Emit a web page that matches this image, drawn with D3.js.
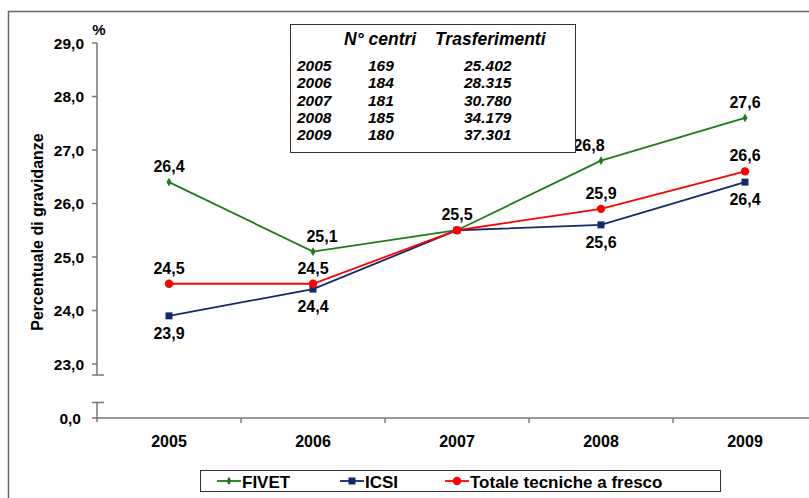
<!DOCTYPE html>
<html>
<head>
<meta charset="utf-8">
<script src="https://d3js.org/d3.v7.min.js"></script>
<style>
  html, body { margin: 0; background: #fff; overflow: hidden; width: 809px; height: 498px; }
  svg { display: block; font-family: "Liberation Sans", Arial, sans-serif; }
</style>
</head>
<body>
<svg id="chart" width="809" height="498"></svg>
<script>
// data
const years = ["2005", "2006", "2007", "2008", "2009"];
const fivet = [26.4, 25.1, 25.5, 26.8, 27.6];
const icsi = [23.9, 24.4, 25.5, 25.6, 26.4];
const totale = [24.5, 24.5, 25.5, 25.9, 26.6];
const yTicks = [23, 24, 25, 26, 27, 28, 29];
const tableYears = ["2005", "2006", "2007", "2008", "2009"];
const centri = ["169", "184", "181", "185", "180"];
const trasferimenti = ["25.402", "28.315", "30.780", "34.179", "37.301"];

const svg = d3.select("#chart");
const fmt = v => d3.format(".1f")(v).replace(".", ",");

const axisX = 97, axisBottom = 418;
const x = d3.scalePoint().domain(years).range([axisX, 817]).padding(0.5);
const y = d3.scaleLinear().domain([23, 29]).range([364, 43]);

const axisColor = "#777";
const g = svg.append("g");

// y axis (broken)
g.append("line").attr("x1", axisX).attr("x2", axisX).attr("y1", y(29)).attr("y2", 375)
  .attr("stroke", axisColor).attr("stroke-width", 1.5);
g.append("line").attr("x1", 92).attr("x2", 104).attr("y1", 375).attr("y2", 375)
  .attr("stroke", axisColor).attr("stroke-width", 1.5);
g.append("line").attr("x1", 92).attr("x2", 104).attr("y1", 402.5).attr("y2", 402.5)
  .attr("stroke", axisColor).attr("stroke-width", 1.5);
g.append("line").attr("x1", axisX).attr("x2", axisX).attr("y1", 402.5).attr("y2", axisBottom + 4)
  .attr("stroke", axisColor).attr("stroke-width", 1.5);

yTicks.forEach(t => {
  g.append("line").attr("x1", 92).attr("x2", axisX).attr("y1", y(t)).attr("y2", y(t))
    .attr("stroke", axisColor).attr("stroke-width", 1.5);
  g.append("text").attr("x", 84).attr("y", y(t) + 5.5)
    .attr("text-anchor", "end").attr("font-size", 15.5).attr("font-weight", "bold")
    .text(fmt(t));
});
g.append("line").attr("x1", 92).attr("x2", axisX).attr("y1", axisBottom).attr("y2", axisBottom)
  .attr("stroke", axisColor).attr("stroke-width", 1.5);
g.append("text").attr("x", 81).attr("y", axisBottom + 5.5)
  .attr("text-anchor", "end").attr("font-size", 15.5).attr("font-weight", "bold")
  .text("0,0");

g.append("text").attr("x", 99).attr("y", 35)
  .attr("text-anchor", "middle").attr("font-size", 15).attr("font-weight", "bold")
  .text("%");

g.append("text")
  .attr("transform", "translate(43,232) rotate(-90)")
  .attr("text-anchor", "middle").attr("font-size", 16).attr("font-weight", "bold")
  .text("Percentuale di gravidanze");

// x axis
const step = x.step();
years.forEach((yr, i) => {
  if (i > 0) {
    const tx = x(yr) - step / 2;
    g.append("line").attr("x1", tx).attr("x2", tx).attr("y1", axisBottom).attr("y2", axisBottom + 5)
      .attr("stroke", axisColor).attr("stroke-width", 1.5);
  }
  g.append("text").attr("x", x(yr)).attr("y", 447)
    .attr("text-anchor", "middle").attr("font-size", 16).attr("font-weight", "bold")
    .text(yr);
});

// series
const series = [
  { name: "FIVET", values: fivet, color: "#1E7B1E", marker: "diamond", label: "above" },
  { name: "ICSI", values: icsi, color: "#14296B", marker: "square", label: "below" },
  { name: "Totale tecniche a fresco", values: totale, color: "#FF0000", marker: "circle", label: "above" }
];

function drawMarker(sel, s, cx, cy) {
  if (s.marker === "circle") {
    sel.append("circle").attr("cx", cx).attr("cy", cy).attr("r", 4.2).attr("fill", s.color);
  } else if (s.marker === "square") {
    sel.append("rect").attr("x", cx - 3.5).attr("y", cy - 3.5).attr("width", 7).attr("height", 7)
      .attr("fill", s.color);
  } else {
    sel.append("path").attr("d", d3.symbol(d3.symbolDiamond, 22)())
      .attr("transform", `translate(${cx},${cy})`).attr("fill", s.color);
  }
}

const line = d3.line().x((d, i) => x(years[i])).y(d => y(d));
series.forEach(s => {
  g.append("path").datum(s.values).attr("d", line)
    .attr("fill", "none").attr("stroke", s.color).attr("stroke-width", 1.8);
});
series.forEach(s => {
  s.values.forEach((v, i) => drawMarker(g, s, x(years[i]), y(v)));
});

// data labels
series.forEach(s => {
  s.values.forEach((v, i) => {
    if (years[i] === "2007" && s.name !== "FIVET") return; // overlapping labels
    let dx = 0;
    if (s.name === "FIVET" && years[i] === "2006") dx = 9;
    if (s.name === "FIVET" && years[i] === "2008") dx = -12;
    const ly = s.label === "above" ? y(v) - 10 : y(v) + 23;
    g.append("text").attr("x", x(years[i]) + dx).attr("y", ly)
      .attr("text-anchor", "middle").attr("font-size", 16).attr("font-weight", "bold")
      .text(fmt(v));
  });
});

// table box
const tb = svg.append("g");
tb.append("rect").attr("x", 290.5).attr("y", 24.5).attr("width", 285).attr("height", 128)
  .attr("fill", "#fff").attr("stroke", "#333").attr("stroke-width", 1);
tb.append("text").attr("x", 344).attr("y", 45)
  .attr("font-size", 17.5).attr("font-weight", "bold").attr("font-style", "italic")
  .text("N° centri");
tb.append("text").attr("x", 435).attr("y", 45)
  .attr("font-size", 17.5).attr("font-weight", "bold").attr("font-style", "italic")
  .text("Trasferimenti");
tableYears.forEach((yr, i) => {
  const ty = 71 + i * 17.3;
  tb.append("text").attr("x", 297).attr("y", ty)
    .attr("font-size", 15.5).attr("font-weight", "bold").attr("font-style", "italic").text(yr);
  tb.append("text").attr("x", 368).attr("y", ty)
    .attr("font-size", 15.5).attr("font-weight", "bold").attr("font-style", "italic").text(centri[i]);
  tb.append("text").attr("x", 464).attr("y", ty)
    .attr("font-size", 15.5).attr("font-weight", "bold").attr("font-style", "italic").text(trasferimenti[i]);
});

// legend
const lg = svg.append("g");
lg.append("rect").attr("x", 200.5).attr("y", 470.5).attr("width", 520).attr("height", 21)
  .attr("fill", "#fff").attr("stroke", "#333").attr("stroke-width", 1);
const legX = [217, 340, 445];
series.forEach((s, i) => {
  const lx = legX[i];
  lg.append("line").attr("x1", lx).attr("x2", lx + 24).attr("y1", 481).attr("y2", 481)
    .attr("stroke", s.color).attr("stroke-width", 1.8);
  drawMarker(lg, s, lx + 12, 481);
  lg.append("text").attr("x", lx + 25).attr("y", 487.5)
    .attr("font-size", 17).attr("font-weight", "bold").text(s.name);
});

// clean right strip, then frame and x axis line on top
svg.append("rect").attr("x", 800).attr("y", 13).attr("width", 9).attr("height", 485).attr("fill", "#fff");
svg.append("path")
  .attr("d", "M8.5,498 L8.5,11.5 L809,11.5")
  .attr("fill", "none").attr("stroke", "#666").attr("stroke-width", 1.5);
svg.append("line").attr("x1", axisX).attr("x2", 809).attr("y1", axisBottom).attr("y2", axisBottom)
  .attr("stroke", axisColor).attr("stroke-width", 1.5);
</script>
</body>
</html>
